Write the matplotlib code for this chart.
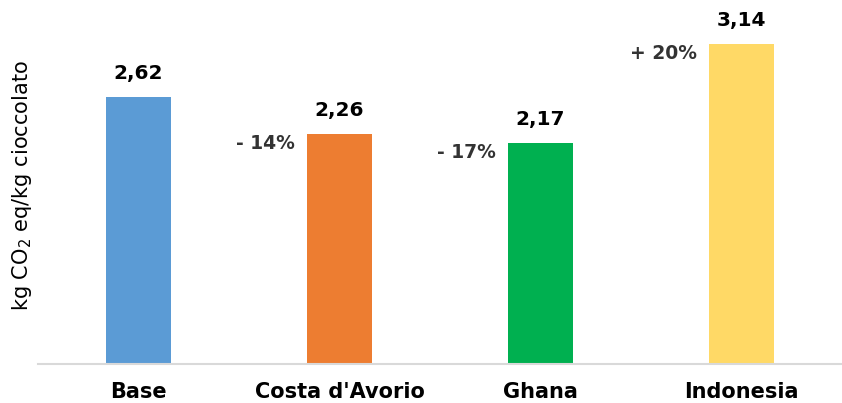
import matplotlib.pyplot as plt

# emissions per kg of chocolate, by cocoa origin
categories = ["Base", "Costa d'Avorio", "Ghana", "Indonesia"]
values = [2.62, 2.26, 2.17, 3.14]
value_labels = ["2,62", "2,26", "2,17", "3,14"]
deltas = ["", "- 14%", "- 17%", "+ 20%"]
colors = ["#5b9bd5", "#ed7d31", "#00b050", "#ffd966"]

fig = plt.figure(figsize=(8.42, 4.03), dpi=100)
ax = fig.add_axes([38 / 842, 1 - 364 / 403, 804 / 842, 364 / 403])

x = range(len(categories))
bars = ax.bar(x, values, width=0.32, color=colors)

ax.set_xlim(-0.5, 3.5)
ax.set_ylim(0, 364 / 101.9)

for i, b in enumerate(bars):
    h = b.get_height()
    ax.annotate(value_labels[i], (b.get_x() + b.get_width() / 2, h),
                xytext=(0, 10), textcoords="offset points",
                ha="center", va="bottom", fontsize=14.5, fontweight="bold",
                color="black")
    if deltas[i]:
        ax.annotate(deltas[i], (b.get_x(), h),
                    xytext=(-9, -7), textcoords="offset points",
                    ha="right", va="center", fontsize=13.5, fontweight="bold",
                    color="#333333")

ax.set_xticks(list(x))
ax.set_xticklabels(categories, fontsize=15, fontweight="bold")
ax.tick_params(axis="x", length=0, pad=13)
ax.set_yticks([])

for s in ["top", "right", "left"]:
    ax.spines[s].set_visible(False)
ax.spines["bottom"].set_color("#d9d9d9")
ax.spines["bottom"].set_linewidth(1.5)

fig.text(22 / 842, 1 - 186 / 403, "kg CO$_2$ eq/kg cioccolato",
         rotation=90, ha="center", va="center", fontsize=15)

fig.savefig("out.png", dpi=100)
